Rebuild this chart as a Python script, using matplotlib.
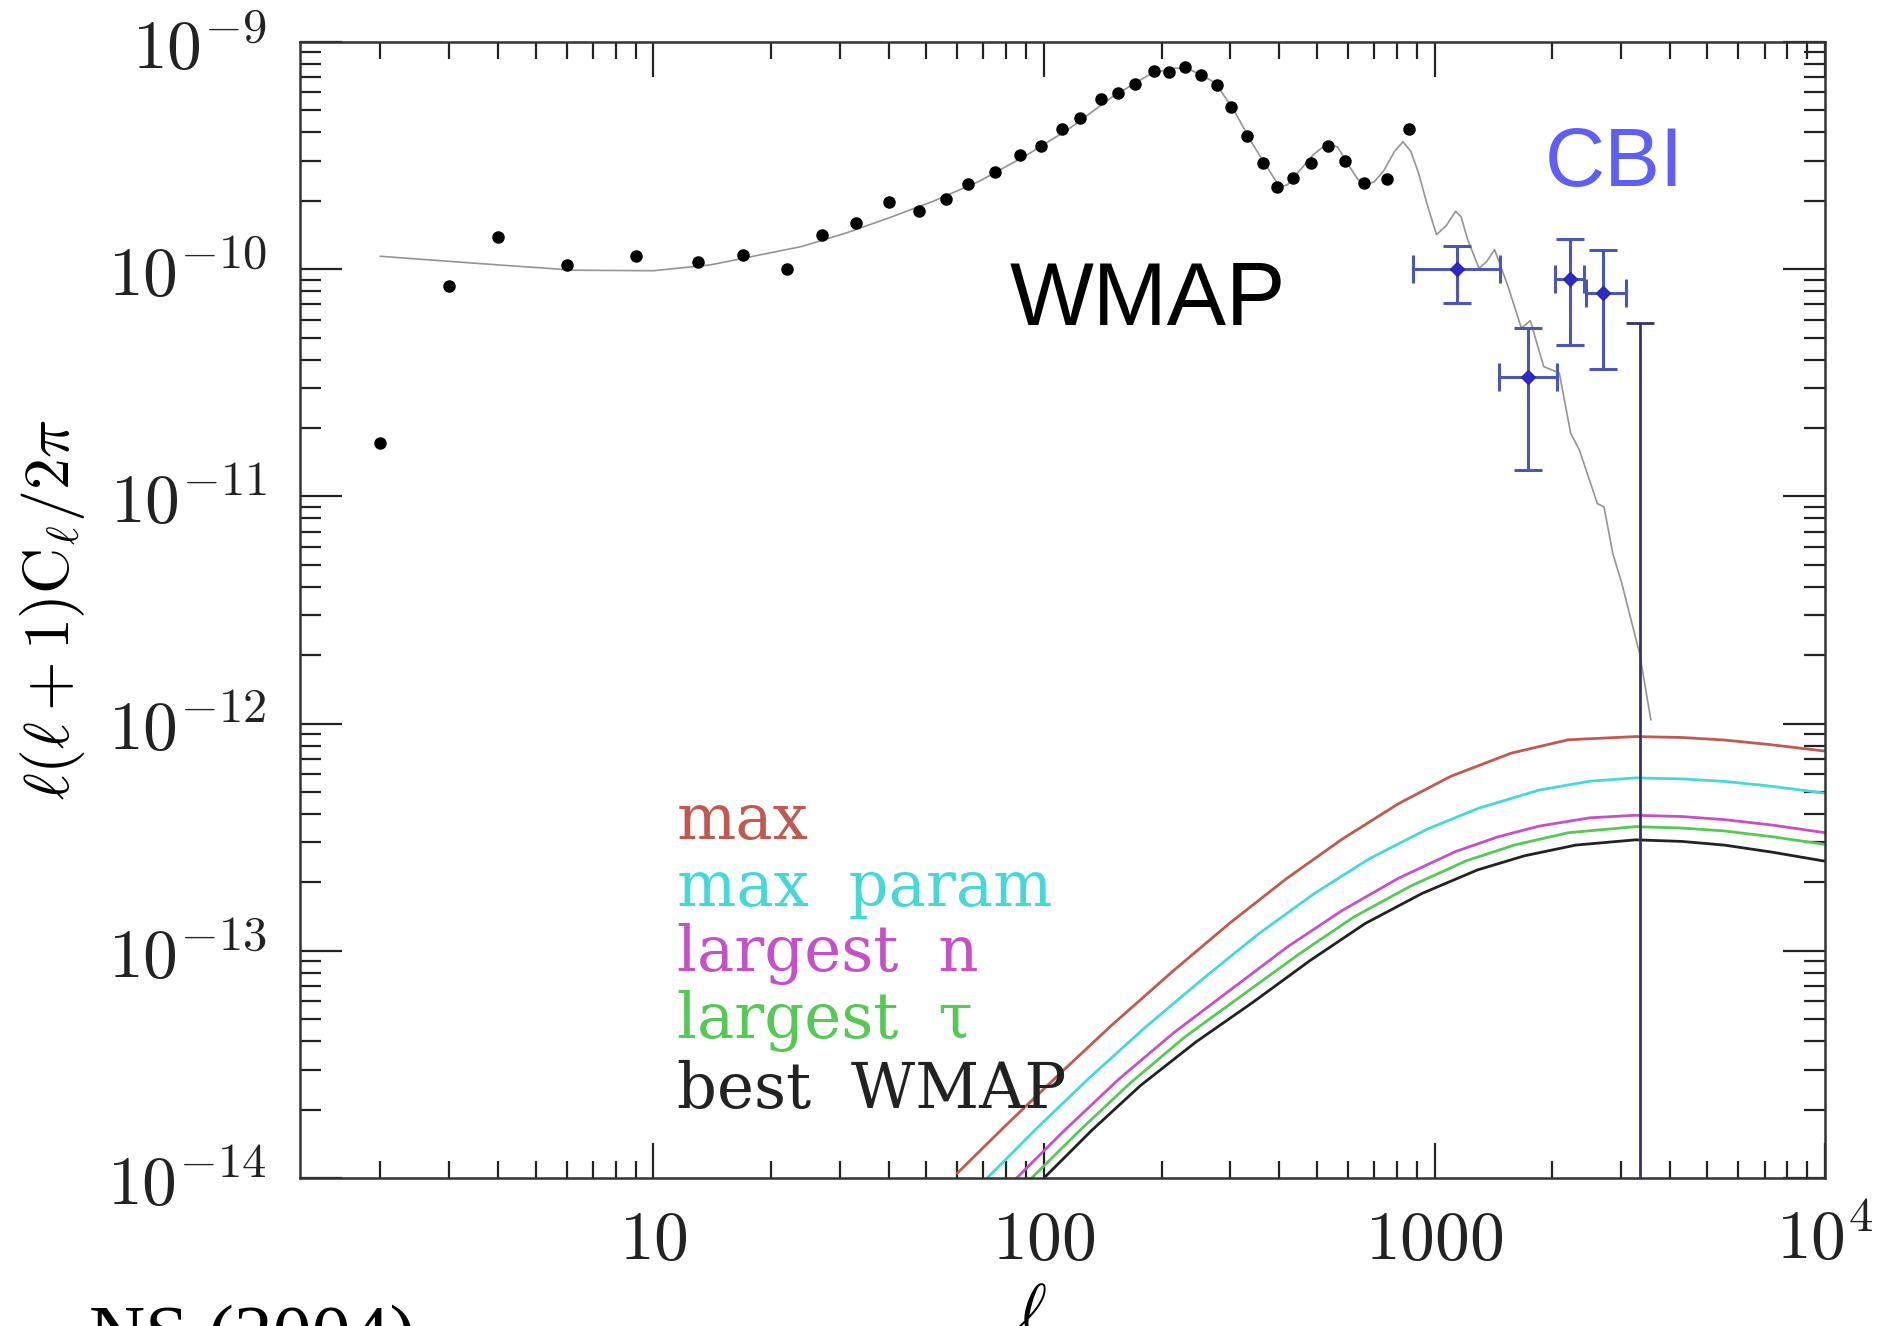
import matplotlib
matplotlib.use('Agg')
import matplotlib.pyplot as plt
from matplotlib.ticker import LogLocator, NullFormatter
import numpy as np

plt.rcParams['mathtext.fontset'] = 'cm'

# WMAP band powers (black dots)
wmap_l = [2, 3, 4, 6, 9, 13, 17, 22, 27, 33, 40, 48, 56, 64, 75, 87, 98, 111, 124, 140,
          155, 171, 191, 209, 230, 253, 277, 302, 331, 363, 396, 434, 482, 534, 590, 661, 757, 859]
wmap_cl = [1.72e-11, 8.4e-11, 1.38e-10, 1.04e-10, 1.14e-10, 1.08e-10, 1.16e-10, 1.0e-10, 1.41e-10, 1.6e-10,
           1.97e-10, 1.8e-10, 2.04e-10, 2.38e-10, 2.67e-10, 3.19e-10, 3.5e-10, 4.15e-10, 4.65e-10, 5.61e-10,
           5.96e-10, 6.55e-10, 7.43e-10, 7.38e-10, 7.73e-10, 7.18e-10, 6.48e-10, 5.2e-10, 3.86e-10, 2.93e-10,
           2.29e-10, 2.53e-10, 2.93e-10, 3.5e-10, 2.98e-10, 2.39e-10, 2.5e-10, 4.13e-10]

# best fit CMB model (thin grey line)
model_l = [2, 4, 6.3, 10, 14, 18, 24, 31, 40, 52, 68, 89, 115, 150, 186, 205, 218, 237, 255, 275, 306, 341,
           381, 401, 420, 450, 490, 531, 565, 600, 635, 664, 700, 740, 790, 830, 870, 910, 960, 1012, 1070,
           1133, 1170, 1216, 1300, 1360, 1425, 1543, 1669, 1759, 1904, 2088, 2231, 2350, 2612, 2716, 2862,
           3016, 3350, 3580]
model_cl = [1.14e-10, 1.045e-10, 9.9e-11, 9.85e-11, 1.045e-10, 1.14e-10, 1.26e-10, 1.44e-10, 1.68e-10, 1.99e-10,
            2.43e-10, 3.13e-10, 4.11e-10, 5.75e-10, 7.18e-10, 7.55e-10, 7.68e-10, 7.55e-10, 7.1e-10, 6.6e-10,
            5.03e-10, 3.59e-10, 2.65e-10, 2.31e-10, 2.35e-10, 2.7e-10, 3.2e-10, 3.57e-10, 3.45e-10, 2.9e-10,
            2.5e-10, 2.36e-10, 2.42e-10, 2.7e-10, 3.3e-10, 3.64e-10, 3.3e-10, 2.65e-10, 1.9e-10, 1.42e-10, 1.55e-10,
            1.8e-10, 1.7e-10, 1.35e-10, 1.01e-10, 1.08e-10, 1.22e-10, 8.4e-11, 5.5e-11, 5.94e-11, 3.73e-11,
            3.49e-11, 1.9e-11, 1.6e-11, 9.3e-12, 9.0e-12, 5.6e-12, 4.15e-12, 2.04e-12, 1.04e-12]

# CBI band powers with l-range and 1-sigma range
cbi_l = [1145, 1735, 2218, 2693]
cbi_l_lo = [883, 1462, 2031, 2446]
cbi_l_hi = [1469, 2061, 2412, 3098]
cbi_cl = [1.0e-10, 3.37e-11, 9.03e-11, 7.85e-11]
cbi_cl_lo = [7.13e-11, 1.31e-11, 4.64e-11, 3.63e-11]
cbi_cl_hi = [1.26e-10, 5.5e-11, 1.36e-10, 1.22e-10]
# last CBI band: only an upper bound visible
cbi_last_l = [3350]
cbi_last_cl = [1e-15]
cbi_last_hi = [5.78e-11]

# secondary spectra
max_l = [60, 80, 111, 150, 216, 300, 418, 580, 810, 1100, 1570, 2200, 3270, 4300, 5520, 7200, 10000]
max_cl = [1.05e-14, 1.71e-14, 2.93e-14, 4.75e-14, 8.26e-14, 1.33e-13, 2.08e-13, 3.1e-13, 4.45e-13,
          5.86e-13, 7.41e-13, 8.49e-13, 8.77e-13, 8.69e-13, 8.47e-13, 8.09e-13, 7.57e-13]
mpar_l = [72, 96, 131, 180, 255, 355, 493, 680, 957, 1300, 1854, 2500, 3273, 4300, 5520, 7300, 10000]
mpar_cl = [1.01e-14, 1.66e-14, 2.77e-14, 4.54e-14, 7.52e-14, 1.19e-13, 1.79e-13, 2.54e-13, 3.43e-13,
           4.25e-13, 5.1e-13, 5.58e-13, 5.77e-13, 5.71e-13, 5.57e-13, 5.3e-13, 4.94e-13]
ln_l = [84, 112, 155, 215, 301, 420, 582, 810, 1129, 1450, 1854, 2500, 3273, 4300, 5520, 7300, 10000]
ln_cl = [9.77e-15, 1.6e-14, 2.71e-14, 4.36e-14, 6.75e-14, 1.04e-13, 1.51e-13, 2.09e-13, 2.73e-13,
         3.17e-13, 3.54e-13, 3.85e-13, 3.95e-13, 3.9e-13, 3.78e-13, 3.58e-13, 3.31e-13]
lt_l = [93, 124, 166, 230, 321, 450, 622, 870, 1206, 1600, 2200, 3273, 4300, 5520, 7300, 10000]
lt_cl = [1.0e-14, 1.63e-14, 2.61e-14, 4.19e-14, 6.35e-14, 9.68e-14, 1.41e-13, 1.93e-13, 2.49e-13,
         2.92e-13, 3.31e-13, 3.52e-13, 3.47e-13, 3.37e-13, 3.18e-13, 2.94e-13]
bw_l = [100, 133, 177, 245, 343, 480, 665, 930, 1288, 1700, 2300, 3273, 4300, 5520, 7300, 10000]
bw_cl = [1.0e-14, 1.63e-14, 2.56e-14, 3.97e-14, 5.94e-14, 9.06e-14, 1.32e-13, 1.79e-13, 2.27e-13,
         2.62e-13, 2.92e-13, 3.08e-13, 3.03e-13, 2.92e-13, 2.72e-13, 2.48e-13]

curve_names = ['max', 'max  param', 'largest  n', 'largest  \u03c4', 'best  WMAP']
curve_cols = ['#c05a50', '#45d8d8', '#c650c6', '#55c855', '#222222']

fig = plt.figure(figsize=(18.94, 13.26), dpi=100)
ax = fig.add_axes([0.1584, 0.1116, 0.8052, 0.8567])
ax.set_xscale('log')
ax.set_yscale('log')

ax.plot(model_l, model_cl, color='#949494', lw=1.2, zorder=2)
ax.plot(wmap_l, wmap_cl, 'o', color='black', ms=8, zorder=3)

for xs, ys, c in zip([max_l, mpar_l, ln_l, lt_l, bw_l], [max_cl, mpar_cl, ln_cl, lt_cl, bw_cl], curve_cols):
    ax.plot(xs, ys, color=c, lw=2.0, zorder=2)

cl = np.array(cbi_cl)
ll = np.array(cbi_l)
ax.errorbar(ll, cl,
            yerr=[cl - np.array(cbi_cl_lo), np.array(cbi_cl_hi) - cl],
            xerr=[ll - np.array(cbi_l_lo), np.array(cbi_l_hi) - ll],
            fmt='D', color='#4c56b4', mfc='#2a2ad0', mec='#2a2a90', ms=7,
            elinewidth=2.2, capsize=10, capthick=2.2, zorder=4)
ax.errorbar(cbi_last_l, cbi_last_cl,
            yerr=[[0], [cbi_last_hi[0] - cbi_last_cl[0]]],
            fmt='none', ecolor='#343468', elinewidth=2.0, capsize=10, capthick=2.0, zorder=4)

ax.set_xlim(1.245, 1e4)
ax.set_ylim(1e-14, 1e-9)

ax.set_xticks([10, 100, 1000, 1e4])
ax.set_xticklabels([r'$10$', r'$100$', r'$1000$', r'$10^4$'])
ax.set_yticks([1e-14, 1e-13, 1e-12, 1e-11, 1e-10, 1e-9])
ax.set_yticklabels([r'$10^{-14}$', r'$10^{-13}$', r'$10^{-12}$', r'$10^{-11}$', r'$10^{-10}$', r'$10^{-9}$'])
ax.xaxis.set_minor_locator(LogLocator(base=10, subs=np.arange(2, 10)))
ax.yaxis.set_minor_locator(LogLocator(base=10, subs=np.arange(2, 10)))
ax.xaxis.set_minor_formatter(NullFormatter())
ax.yaxis.set_minor_formatter(NullFormatter())

ax.tick_params(which='both', direction='in', top=True, right=True, width=1.6, colors='#222222')
ax.tick_params(axis='x', which='major', length=25, pad=20, labelsize=50)
ax.tick_params(axis='x', which='minor', length=12)
ax.tick_params(axis='y', which='major', length=30, pad=24, labelsize=50)
ax.tick_params(axis='y', which='minor', length=15)
for sp in ax.spines.values():
    sp.set_linewidth(1.8)
    sp.set_color('#333333')

ax.set_xlabel(r'$\ell$', fontsize=50)
ax.xaxis.set_label_coords(0.48, -0.09)
ax.set_ylabel(r'$\ell(\ell+1)\mathrm{C}_\ell/2\pi$', fontsize=46)
ax.yaxis.set_label_coords(-0.14, 0.5)

ax.text(0.556, 0.771, 'WMAP', transform=ax.transAxes, fontsize=64, family='Liberation Sans',
        ha='center', va='center', color='black')
ax.text(0.862, 0.893, 'CBI', transform=ax.transAxes, fontsize=60, family='Liberation Sans',
        ha='center', va='center', color='#5f5ff5')

ys = [0.314, 0.255, 0.197, 0.138, 0.077]
for name, c, y in zip(curve_names, curve_cols, ys):
    ax.text(0.247, y, name, transform=ax.transAxes, fontsize=45, family='DejaVu Serif',
            color=c, ha='left', va='center')

fig.text(0.047, 0.016, 'NS (2004)', fontsize=56, family='Liberation Serif', ha='left', va='top')

plt.savefig('out.png', dpi=100)
